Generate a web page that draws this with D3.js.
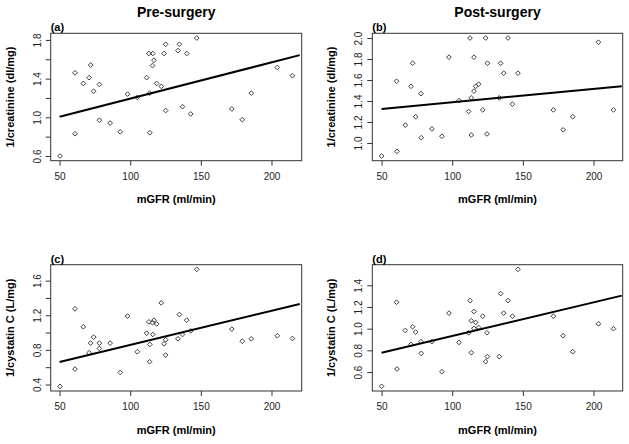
<!DOCTYPE html>
<html>
<head>
<meta charset="utf-8">
<script src="https://cdn.jsdelivr.net/npm/d3@7"></script>
<style>
  html, body { margin: 0; padding: 0; background: #fff; }
  svg { display: block; font-family: "Liberation Sans", Arial, Helvetica, sans-serif; }
</style>
</head>
<body>
<svg id="chart" width="629" height="444"></svg>
<script>
// ---- data ----
const mgfrPre = [50.3, 60.9, 60.9, 66.8, 70.9, 72.0, 74.1, 78.2, 78.2, 85.8, 92.9, 98.1, 105.0, 111.6, 113.2, 113.7, 113.9, 115.8, 116.0, 116.8, 118.7, 122.0, 124.0, 125.1, 125.1, 133.8, 134.8, 137.0, 140.0, 142.8, 147.1, 171.9, 179.3, 185.7, 204.1, 214.8];
const mgfrPost = [50.0, 60.6, 60.9, 66.8, 70.8, 72.0, 74.1, 77.9, 78.1, 85.6, 92.7, 97.7, 104.8, 111.6, 112.6, 113.5, 113.5, 115.4, 115.4, 116.6, 118.7, 121.6, 123.7, 124.6, 124.9, 133.3, 134.3, 136.4, 139.5, 142.6, 146.5, 171.6, 178.5, 185.3, 203.5, 214.1];

const invCreatPre = [0.60, 1.46, 0.83, 1.35, 1.41, 1.54, 1.27, 1.34, 0.97, 0.94, 0.85, 1.24, 1.205, 1.41, 1.66, 1.25, 0.84, 1.535, 1.66, 1.59, 1.35, 1.32, 1.66, 1.755, 1.07, 1.69, 1.755, 1.11, 1.66, 1.035, 1.82, 1.087, 0.975, 1.25, 1.515, 1.43];
const invCreatPost = [0.876, 1.588, 0.92, 1.17, 1.54, 1.76, 1.25, 1.47, 1.05, 1.134, 1.064, 1.817, 1.404, 1.30, 2.0, 1.43, 1.076, 1.817, 1.494, 1.54, 1.56, 1.315, 2.0, 1.086, 1.76, 1.43, 1.76, 1.665, 2.0, 1.37, 1.665, 1.315, 1.125, 1.25, 1.96, 1.315];
const invCystPre = [0.379, 1.274, 0.578, 1.067, 0.767, 0.878, 0.947, 0.878, 0.817, 0.878, 0.54, 1.19, 0.778, 0.993, 1.124, 0.663, 0.863, 1.113, 0.978, 1.143, 1.10, 1.343, 0.87, 0.917, 0.74, 0.928, 1.208, 0.978, 1.143, 1.02, 1.73, 1.04, 0.90, 0.928, 0.963, 0.932];
const invCystPost = [0.468, 1.244, 0.628, 0.983, 0.855, 1.017, 0.968, 0.88, 0.772, 0.88, 0.603, 1.143, 0.873, 0.962, 1.259, 1.073, 0.778, 1.158, 1.002, 1.057, 1.011, 1.115, 0.696, 0.962, 0.742, 0.742, 1.324, 1.143, 1.259, 1.115, 1.547, 1.115, 0.935, 0.788, 1.045, 1.0];

// regression line end points (x, y)
const fitX = [50, 220];
const fitA = [1.005, 1.643];
const fitB = [1.324, 1.540];
const fitC = [0.659, 1.331];
const fitD = [0.778, 1.305];

// ticks and tick labels
const xTicks = [50, 100, 150, 200];
const yTicksA = [0.6, 0.8, 1.0, 1.2, 1.4, 1.6, 1.8];
const yLabelsA = ["0.6", "1.0", "1.4", "1.8"];
const yTicksB = [1.0, 1.2, 1.4, 1.6, 1.8, 2.0];
const yLabelsB = ["1.0", "1.2", "1.4", "1.6", "1.8", "2.0"];
const yTicksC = [0.4, 0.6, 0.8, 1.0, 1.2, 1.4, 1.6];
const yLabelsC = ["0.4", "0.8", "1.2", "1.6"];
const yTicksD = [0.6, 0.8, 1.0, 1.2, 1.4];
const yLabelsD = ["0.6", "0.8", "1.0", "1.2", "1.4"];

const columnTitles = ["Pre-surgery", "Post-surgery"];
const panelTags = ["(a)", "(b)", "(c)", "(d)"];
const xTitle = "mGFR (ml/min)";
const yTitleCreat = "1/creatinine (dl/mg)";
const yTitleCyst = "1/cystatin C (L/mg)";

// ---- layout ----
const svg = d3.select("#chart");
const colX = [[50.7, 301.7], [372.3, 622.7]];
const rowY = [[33.3, 160.7], [264.7, 391.0]];

const panels = [
  {tag: panelTags[0], col: 0, row: 0, x: mgfrPre,  y: invCreatPre,  fit: fitA, ticks: yTicksA, labels: yLabelsA, ytitle: yTitleCreat},
  {tag: panelTags[1], col: 1, row: 0, x: mgfrPost, y: invCreatPost, fit: fitB, ticks: yTicksB, labels: yLabelsB, ytitle: yTitleCreat},
  {tag: panelTags[2], col: 0, row: 1, x: mgfrPre,  y: invCystPre,   fit: fitC, ticks: yTicksC, labels: yLabelsC, ytitle: yTitleCyst},
  {tag: panelTags[3], col: 1, row: 1, x: mgfrPost, y: invCystPost,  fit: fitD, ticks: yTicksD, labels: yLabelsD, ytitle: yTitleCyst}
];

function padExtent(arr) {
  const [a, b] = d3.extent(arr);
  const p = (b - a) * 0.04;
  return [a - p, b + p];
}

const axisColor = "#333";
const diamond = d3.symbol().type(d3.symbolSquare).size(11);

// column titles
columnTitles.forEach((t, i) => {
  svg.append("text")
    .attr("x", (colX[i][0] + colX[i][1]) / 2)
    .attr("y", 16.5)
    .attr("text-anchor", "middle")
    .attr("font-size", 14)
    .attr("font-weight", "bold")
    .attr("fill", "#000")
    .text(t);
});

panels.forEach(p => {
  const [x0, x1] = colX[p.col];
  const [y0, y1] = rowY[p.row];
  const xs = d3.scaleLinear().domain(padExtent(p.x)).range([x0, x1]);
  const ys = d3.scaleLinear().domain(padExtent(p.y)).range([y1, y0]);
  const g = svg.append("g");

  // x axis
  const xa = g.append("g")
    .attr("transform", `translate(0,${y1})`)
    .call(d3.axisBottom(xs).tickValues(xTicks).tickSize(5).tickSizeOuter(0).tickPadding(7).tickFormat(d3.format("d")));
  xa.select(".domain").remove();
  xa.selectAll(".tick line").attr("stroke", axisColor);
  xa.selectAll(".tick text")
    .attr("font-size", 10)
    .attr("fill", "#222")
    .attr("font-family", "'Liberation Sans', Arial, sans-serif");

  // y axis
  const ya = g.append("g")
    .attr("transform", `translate(${x0},0)`)
    .call(d3.axisLeft(ys).tickValues(p.ticks).tickSize(5).tickSizeOuter(0)
      .tickFormat(d => { const s = d3.format(".1f")(d); return p.labels.includes(s) ? s : ""; }));
  ya.select(".domain").remove();
  ya.selectAll(".tick line").attr("stroke", axisColor);
  ya.selectAll(".tick text")
    .attr("transform", "rotate(-90)")
    .attr("x", 0)
    .attr("y", -10)
    .attr("dy", 0)
    .attr("text-anchor", "middle")
    .attr("font-size", 10)
    .attr("fill", "#222")
    .attr("font-family", "'Liberation Sans', Arial, sans-serif");

  // box
  g.append("rect")
    .attr("x", x0).attr("y", y0)
    .attr("width", x1 - x0).attr("height", y1 - y0)
    .attr("fill", "none")
    .attr("stroke", axisColor)
    .attr("stroke-width", 1);

  // points
  const pts = p.x.map((v, i) => [v, p.y[i]]);
  g.append("g").selectAll("path")
    .data(pts)
    .join("path")
    .attr("d", diamond)
    .attr("transform", d => `translate(${xs(d[0])},${ys(d[1])}) rotate(45)`)
    .attr("fill", "none")
    .attr("stroke", "#333")
    .attr("stroke-width", 0.9);

  // regression line
  const line = d3.line().x(d => xs(d[0])).y(d => ys(d[1]));
  g.append("path")
    .datum(fitX.map((v, i) => [v, p.fit[i]]))
    .attr("d", line)
    .attr("fill", "none")
    .attr("stroke", "#000")
    .attr("stroke-width", 2);

  // panel tag
  g.append("text")
    .attr("x", x0)
    .attr("y", y0 - 2)
    .attr("font-size", 11)
    .attr("font-weight", "bold")
    .attr("fill", "#000")
    .text(p.tag);

  // x title
  g.append("text")
    .attr("x", (x0 + x1) / 2)
    .attr("y", y1 + 42.5)
    .attr("text-anchor", "middle")
    .attr("font-size", 11)
    .attr("font-weight", "bold")
    .attr("fill", "#000")
    .text(xTitle);

  // y title
  g.append("text")
    .attr("transform", `translate(${x0 - 37},${(y0 + y1) / 2}) rotate(-90)`)
    .attr("text-anchor", "middle")
    .attr("font-size", 11)
    .attr("font-weight", "bold")
    .attr("fill", "#000")
    .text(p.ytitle);
});
</script>
</body>
</html>
